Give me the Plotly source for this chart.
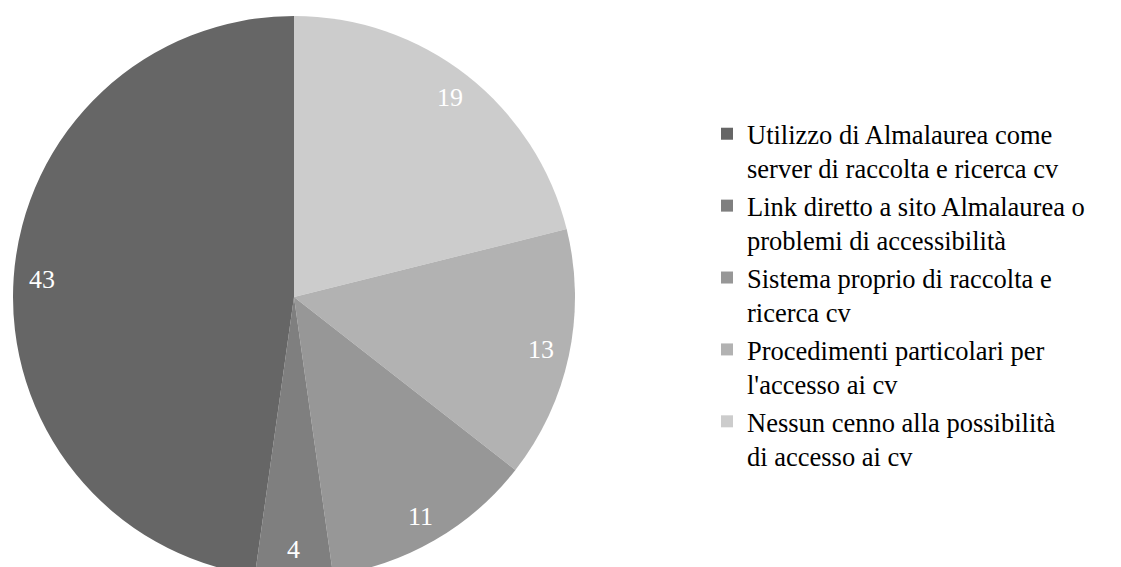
import math
import plotly.graph_objects as go

labels = [
    "Utilizzo di Almalaurea come<br>server di raccolta e ricerca cv",
    "Link diretto a sito Almalaurea o<br>problemi di accessibilità",
    "Sistema proprio di raccolta e<br>ricerca cv",
    "Procedimenti particolari per<br>l'accesso ai cv",
    "Nessun cenno alla possibilità<br>di accesso ai cv",
]
values = [43, 4, 11, 13, 19]
colors = ["#666666", "#7f7f7f", "#979797", "#b2b2b2", "#cccccc"]

W, H = 1121, 590
# pie geometry (pixels)
cx, cy, R = 294, 297, 281
dom_x = [(cx - R) / W, (cx + R) / W]
dom_y = [1 - (cy + R) / H, 1 - (cy - R) / H]

# The reference runs counterclockwise from 12 o'clock; draw the reversed
# series clockwise from 12 o'clock, and reverse the legend back.
fig = go.Figure(go.Pie(
    labels=labels[::-1], values=values[::-1], sort=False, direction="clockwise",
    rotation=0, marker=dict(colors=colors[::-1], line=dict(width=0)),
    textinfo="none", hoverinfo="label+value", domain=dict(x=dom_x, y=dom_y),
))

# value labels placed near the rim, computed from the data
total = sum(values)
cum = 0
ann = []
for v in values:
    mid = cum + v / 2
    cum += v
    ang = math.radians(90 + 360 * mid / total)
    r = 0.9 * R
    px = cx + r * math.cos(ang)
    py = cy - r * math.sin(ang)
    ann.append(dict(x=px / W, y=1 - py / H, xref="paper", yref="paper",
                    xanchor="center", yanchor="middle",
                    text=str(v), showarrow=False,
                    font=dict(family="Liberation Serif", size=26, color="white")))

fig.update_layout(
    width=W, height=H, margin=dict(l=0, r=0, t=0, b=0),
    paper_bgcolor="white", plot_bgcolor="white",
    annotations=ann,
    showlegend=True,
    legend=dict(x=707 / W, xanchor="left", y=1 - 110 / H, yanchor="top",
                valign="top", traceorder="reversed",
                font=dict(family="Liberation Serif", size=26.5, color="black"),
                bgcolor="rgba(0,0,0,0)"),
)

fig.write_html("out.html", config={"displayModeBar": False},
               post_script="document.body.style.margin='0';document.body.style.overflow='hidden';")
